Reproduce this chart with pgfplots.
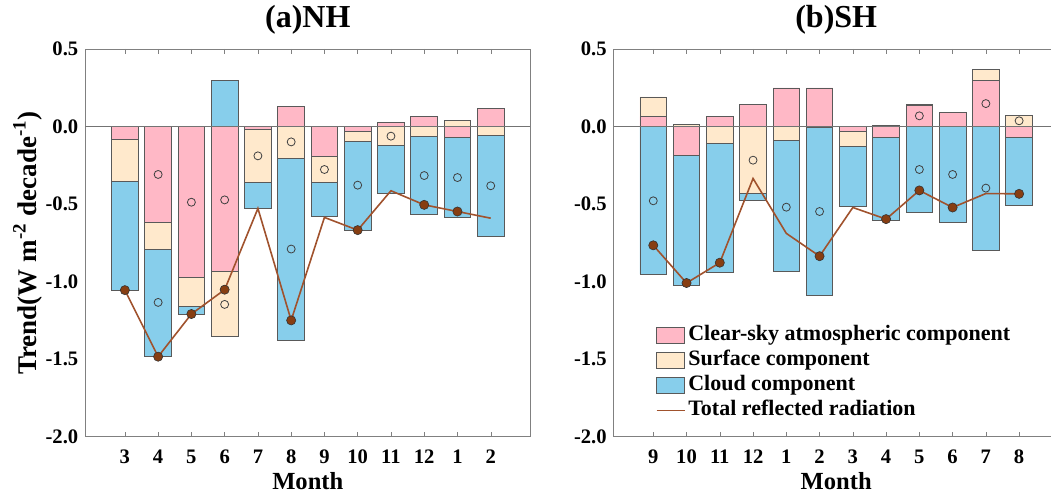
\documentclass[border=0pt]{standalone}
\usepackage{pgfplots}
\pgfplotsset{compat=1.18}
\usepackage{pgfplotstable}
\usepackage{fontspec}
\setmainfont{Liberation Serif}

\definecolor{csa}{RGB}{255,184,198}
\definecolor{sfc}{RGB}{255,233,204}
\definecolor{cld}{RGB}{135,206,235}
\definecolor{tot}{RGB}{160,82,45}
\definecolor{totdot}{RGB}{135,62,18}

% NH: months 3..2 at positions 1..12
\pgfplotstableread{
x pink surf cloud total
1 -0.084 -0.270 -0.701 -1.055
2 -0.619 -0.174 -0.691 -1.484
3 -0.971 -0.191 -0.047 -1.209
4 -0.936 -0.415 0.299 -1.052
5 -0.017 -0.344 -0.167 -0.528
6 0.127 -0.206 -1.171 -1.250
7 -0.195 -0.166 -0.221 -0.586
8 -0.030 -0.064 -0.574 -0.668
9 0.024 -0.122 -0.312 -0.414
10 0.064 -0.064 -0.503 -0.505
11 -0.071 0.037 -0.515 -0.548
12 0.116 -0.058 -0.649 -0.591
}\nhdata
\pgfplotstableread{
x y
1 -1.055
2 -1.484
3 -1.209
4 -1.052
6 -1.250
8 -0.668
10 -0.505
11 -0.548
}\nhdots
\pgfplotstableread{
x y
2 -0.309
2 -1.134
3 -0.488
4 -0.473
4 -1.147
5 -0.189
6 -0.099
6 -0.790
7 -0.277
8 -0.378
9 -0.062
10 -0.316
11 -0.329
12 -0.382
}\nhcirc

% SH: months 9..8 at positions 1..12
\pgfplotstableread{
x pink surf cloud total
1 0.064 0.127 -0.951 -0.766
2 -0.187 0.013 -0.837 -1.009
3 0.064 -0.110 -0.833 -0.878
4 0.142 -0.432 -0.043 -0.335
5 0.249 -0.092 -0.842 -0.689
6 0.249 -0.005 -1.082 -0.836
7 -0.032 -0.095 -0.391 -0.522
8 -0.069 0.006 -0.537 -0.597
9 0.135 0.009 -0.556 -0.412
10 0.092 0.000 -0.619 -0.522
11 0.296 0.071 -0.797 -0.432
12 -0.071 0.073 -0.438 -0.434
}\shdata
\pgfplotstableread{
x y
1 -0.766
2 -1.009
3 -0.878
6 -0.836
8 -0.597
9 -0.412
10 -0.522
12 -0.434
}\shdots
\pgfplotstableread{
x y
1 -0.479
4 -0.217
5 -0.520
6 -0.548
9 0.069
9 -0.277
10 -0.309
11 0.148
11 -0.397
12 0.037
}\shcirc

\pgfplotsset{
  frame/.style={width=222.5pt, height=193.85pt, scale only axis,
    xmin=-0.19, xmax=13.19, ymin=-2, ymax=0.5},
  panel/.style={frame,
    axis line style={black!50},
    xtick={1,...,12}, xtick pos=both, tick align=inside,
    major tick length=2.5pt, tick style={black!50},
    ytick={-2,-1.5,...,0.5}, yticklabels={-2.0,-1.5,-1.0,-0.5,0.0,0.5},
    ytick style={draw=none},
    ticklabel style={font=\bfseries\fontsize{10.3}{12}\selectfont},
    xticklabel style={yshift=-3pt},
    label style={font=\bfseries\fontsize{12.3}{14}\selectfont},
    xlabel style={yshift=2.5pt},
    ylabel style={font=\bfseries\fontsize{13.5}{15}\selectfont, yshift=-5pt},
    title style={font=\bfseries\fontsize{16}{18}\selectfont, yshift=-2pt},
    xlabel={Month},
    ybar stacked, stack negative=separate, bar width=0.8,
    every axis plot/.append style={draw=black!65, line width=0.4pt},
    legend image code/.code={\draw[#1] (0pt,-3.8pt) rectangle (14pt,3.8pt);},
  },
  over/.style={frame, hide axis},
  circ/.style={only marks, mark=o, mark size=2pt, black!75, line width=0.4pt},
  dots/.style={only marks, mark=*, mark size=2.3pt,
    mark options={fill=totdot, draw=black!80, line width=0.3pt}},
}

\begin{document}
\begin{tikzpicture}
% ---- (a) NH ----
\begin{axis}[panel, at={(42.65pt,30.15pt)}, title={(a)NH},
  xticklabels={3,4,5,6,7,8,9,10,11,12,1,2},
  ylabel={Trend(W m\textsuperscript{-2} decade\textsuperscript{-1})}]
\addplot [fill=csa] table [x=x, y=pink] {\nhdata};
\addplot [fill=sfc] table [x=x, y=surf] {\nhdata};
\addplot [fill=cld] table [x=x, y=cloud] {\nhdata};
\end{axis}
\begin{axis}[over, at={(42.65pt,30.15pt)}]
\addplot [black!55, line width=0.4pt] coordinates {(-0.19,0) (13.19,0)};
\addplot [tot, line width=0.8pt] table [x=x, y=total] {\nhdata};
\addplot [circ] table {\nhcirc};
\addplot [dots] table {\nhdots};
\end{axis}
% ---- (b) SH ----
\begin{axis}[panel, at={(306.85pt,30.15pt)}, title={(b)SH},
  xticklabels={9,10,11,12,1,2,3,4,5,6,7,8},
  legend style={at={(0.08,0.305)}, anchor=north west, draw=none, fill=none,
    font=\bfseries\fontsize{11}{12.5}\selectfont, row sep=0pt,
    nodes={text height=7.8pt, text depth=2.2pt, inner ysep=1.25pt, inner xsep=1.5pt},
    cells={anchor=west}}]
\addplot [fill=csa] table [x=x, y=pink] {\shdata};
\addlegendentry{Clear-sky atmospheric component}
\addplot [fill=sfc] table [x=x, y=surf] {\shdata};
\addlegendentry{Surface component}
\addplot [fill=cld] table [x=x, y=cloud] {\shdata};
\addlegendentry{Cloud component}
\addlegendimage{legend image code/.code={\draw[tot, line width=0.8pt] (0pt,0pt) -- (14pt,0pt);}}
\addlegendentry{Total reflected radiation}
\end{axis}
\begin{axis}[over, at={(306.85pt,30.15pt)}]
\addplot [black!55, line width=0.4pt] coordinates {(-0.19,0) (13.19,0)};
\addplot [tot, line width=0.8pt] table [x=x, y=total] {\shdata};
\addplot [circ] table {\shcirc};
\addplot [dots] table {\shdots};
\end{axis}
\pgfresetboundingbox
\path[use as bounding box] (0,0) rectangle (525.5pt,248.5pt);
\end{tikzpicture}
\end{document}
